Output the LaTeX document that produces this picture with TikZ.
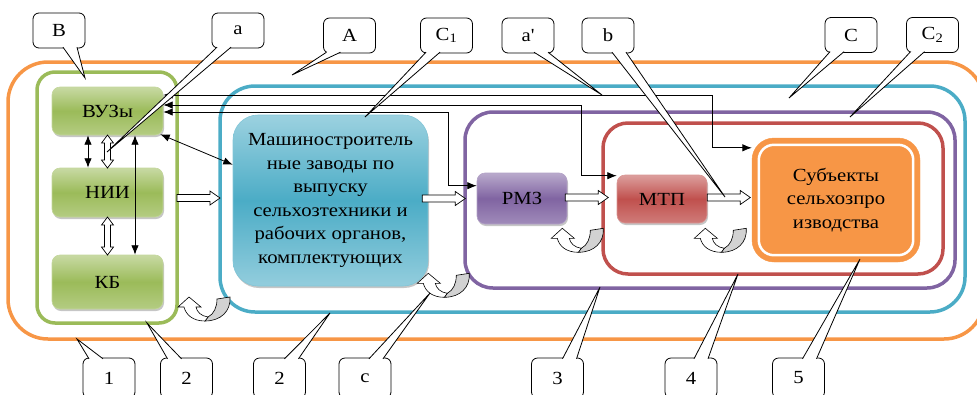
\documentclass[tikz,border=0pt]{standalone}
\usepackage{fontspec}
\setmainfont{Liberation Serif}[FakeStretch=1.12]
\usetikzlibrary{positioning,calc,arrows.meta,shadows}
\definecolor{sysorange}{HTML}{F79646}
\definecolor{sysblue}{HTML}{4BACC6}
\definecolor{syspurple}{HTML}{8064A2}
\definecolor{sysred}{HTML}{C0504D}
\definecolor{sysgreen}{HTML}{9BBB59}
\tikzset{
    every node/.style={font=\fontsize{18.5}{23.5}\selectfont},
    zone/.style={draw=#1, line width=3.5pt, inner sep=0pt, outer sep=0pt},
    unitbox/.style={draw=#1!60!white, line width=0.6pt, rounded corners=8pt,
        top color=#1!55!white, bottom color=#1!75!white, middle color=#1,
        inner sep=0pt, minimum width=90pt,
        drop shadow={shadow xshift=1pt, shadow yshift=-2pt, opacity=.45}},
    plant/.style={draw=sysblue!70!white, line width=0.6pt, rounded corners=25pt,
        top color=sysblue!55!white, bottom color=sysblue!60!white, middle color=sysblue,
        align=center, inner sep=0pt, minimum width=195pt, minimum height=171pt,
        drop shadow={shadow xshift=1pt, shadow yshift=-2pt, opacity=.45}},
    subject/.style={fill=sysorange, draw=sysorange, rounded corners=22pt, align=center,
        inner sep=0pt, minimum width=168pt, minimum height=124pt},
    callbox/.style={draw, fill=white, line width=0.8pt, rounded corners=6pt,
        minimum width=52pt, minimum height=35pt, inner sep=0pt},
    biarrow/.style={{Latex[length=3.3mm,width=2.6mm]}-{Latex[length=3.3mm,width=2.6mm]}, line width=0.8pt},
    % white block arrow, 43 long, drawn from its tail
    pics/hollow/.style={code={
        \filldraw[fill=white, line width=0.7pt] (0,-3.5) -- (33,-3.5) -- (33,-7) -- (43,0)
            -- (33,7) -- (33,3.5) -- (0,3.5) -- cycle;}},
    % white two-headed block arrow of length #1, drawn about its middle
    pics/hollowdbl/.style={code={
        \filldraw[fill=white, line width=0.7pt] (-#1/2,0) -- (-#1/2+8,-6) -- (-#1/2+8,-3)
            -- (#1/2-8,-3) -- (#1/2-8,-6) -- (#1/2,0) -- (#1/2-8,6) -- (#1/2-8,3)
            -- (-#1/2+8,3) -- (-#1/2+8,6) -- cycle;}},
    % feedback loop arrow, drawn from its top left corner
    pics/cyclearrow/.style={code={
        \filldraw[fill=gray!35, line width=0.6pt] (40,2) -- (53,0) .. controls (54,14) and (44,24) .. (28,24)
            -- (31,20) .. controls (37,17) and (40,10) .. (40,2) -- cycle;
        \filldraw[fill=white, line width=0.6pt] (12,0) -- (1,10) -- (7,10) .. controls (9,18) and (16,24) .. (28,24)
            -- (31,20) .. controls (24,19) and (20,15) .. (19,10) -- (24,10) -- cycle;}},
}

\begin{document}
\begin{tikzpicture}[x=1pt, y=-1pt]
\useasboundingbox (0,0) rectangle (977,394);

% nested frames
\node[zone=sysorange, rounded corners=40pt, minimum width=976pt, minimum height=277pt] (sys) at (496,200.5) {};
\node[zone=sysgreen, rounded corners=18pt, minimum width=140pt, minimum height=251pt] (sci) at (107,197.5) {};
\node[zone=sysblue, rounded corners=35pt, minimum width=745pt, minimum height=226pt] (ind) at (592.5,199) {};
\node[zone=syspurple, rounded corners=28pt, minimum width=490pt, minimum height=176pt] (rep) at (710,200) {};
\node[zone=sysred, rounded corners=25pt, minimum width=340pt, minimum height=151pt] (tech) at (773,198.5) {};

% units
\node[unitbox=sysgreen, minimum width=111pt, minimum height=48pt] (vuz) at (107.5,111) {ВУЗы};
\node[unitbox=sysgreen, minimum width=111pt, minimum height=49pt] (nii) at (107.5,192.5) {НИИ};
\node[unitbox=sysgreen, minimum width=111pt, minimum height=54pt] (kb) at (107.5,282) {КБ};
\node[plant] (mash) at (330.5,200.5) {Машиностроитель\\ные заводы по\\выпуску\\сельхозтехники и\\рабочих органов,\\комплектующих};
\node[unitbox=syspurple, minimum height=51pt] (rmz) at (522,198.5) {РМЗ};
\node[unitbox=sysred, minimum height=48pt] (mtp) at (662,199) {МТП};
\node[subject] (subj) at (836,200) {Субъекты\\сельхозпро\\изводства};
\draw[white, line width=2.5pt, rounded corners=15pt] ($(subj.north west)+(7,7)$) rectangle ($(subj.south east)+(-7,-7)$);

% links inside the science block
\draw[biarrow] ($(vuz.south)+(-19.5,0)$) -- ($(nii.north)+(-19.5,0)$);
\draw[biarrow] ($(vuz.south)+(27.5,0)$) -- ($(kb.north)+(27.5,0)$);
\pic[rotate=90] at ($(vuz.south)!0.5!(nii.north)$) {hollowdbl=33};
\pic[rotate=90] at ($(nii.south)!0.5!(kb.north)$) {hollowdbl=38};
\draw[biarrow] ($(vuz.south east)+(-3,-1)$) -- ($(mash.north west)+(0,50)$);

% lines from the universities to every level
\draw[biarrow] ($(vuz.east)+(0,-16)$) -| ($(subj.north west)+(-39,10)$) -- ($(subj.north west)+(0,10)$);
\draw[biarrow] ($(vuz.east)+(0,-6)$) -| ($(mtp.north west)+(-35,1)$) -- ($(mtp.north west)+(0,1)$);
\draw[biarrow] ($(vuz.east)+(0,1)$) -| ($(rmz.north west)+(-28,13)$) -- ($(rmz.north west)+(0,13)$);

% flow along the chain
\pic at ($(sci.east)+(0,0.5)$) {hollow};
\pic at ($(mash.east)+(-6,-2)$) {hollow};
\pic at ($(rmz.east)+(-2,-1)$) {hollow};
\pic at ($(mtp.east)+(0,-1.5)$) {hollow};

% feedback loops
\pic at ($(sci.south east)+(0,-26)$) {cyclearrow};
\pic at ($(mash.south east)+(-12,-13)$) {cyclearrow};
\pic at ($(rmz.south east)+(-17,4)$) {cyclearrow};
\pic at ($(mtp.south east)+(-14,5)$) {cyclearrow};

% callouts above
\foreach \nm/\pos/\txt/\tip/\dx in {
    B/{59,30.5}/B/{85,78}/11,
    a/{238,30.5}/a/{107,152}/-14,
    A/{349.5,35.5}/A/{292,75}/-16,
    C1/{446.5,35.5}/{C\textsubscript{1}}/{365,117}/-13.5,
    ap/{528,35.5}/{a\textquotesingle}/{602,95}/13,
    b/{608,35.5}/b/{725,197}/11,
    C/{851,35}/C/{789,98}/-14,
    C2/{932.5,35}/{C\textsubscript{2}}/{850,117}/-15}{
  \node[callbox] (top-\nm) at (\pos) {\txt};
  \filldraw[fill=white, line width=0.8pt] ($(top-\nm.south)+(\dx-7,-1.2)$) -- (\tip) -- ($(top-\nm.south)+(\dx+7,-1.2)$);
}

% callouts below
\foreach \nm/\pos/\txt/\tip/\dx in {
    1/{109,378}/1/{77,339}/-13,
    2/{186.5,378}/2/{147,323}/-12,
    2b/{279.5,378}/2/{330,313}/12,
    c/{365,378}/c/{430,293}/11,
    3/{557.5,378}/3/{600,287}/12,
    4/{691,378}/4/{738,274}/10,
    5/{798.5,378}/5/{860,259}/11}{
  \node[callbox, minimum height=40pt] (bot-\nm) at (\pos) {\txt};
  \filldraw[fill=white, line width=0.8pt] ($(bot-\nm.north)+(\dx-7,1.2)$) -- (\tip) -- ($(bot-\nm.north)+(\dx+7,1.2)$);
}

\end{tikzpicture}
\end{document}
